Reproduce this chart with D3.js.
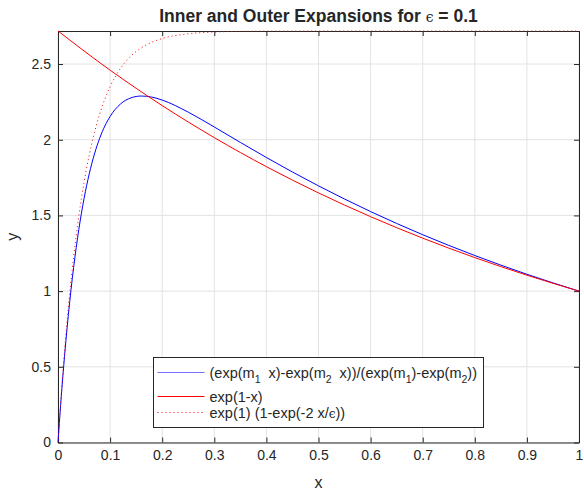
<!DOCTYPE html>
<html lang="en">
    <head>
        <meta charset="utf-8">
        <title></title>
        <script src="https://d3js.org/d3.v7.min.js"></script>
        <style type="text/css">
      body { margin: 0; background: #fff; }
      text { font-family: "Liberation Sans", Arial, sans-serif; fill: #262626; }
      .tick text { font-size: 14px; }
      .axis path, .axis line { stroke: #262626; }
      .grid line { stroke: #e3e3e3; }
        </style>
    </head>
    <body>
    <svg width="584" height="492"></svg>
    <script>
      // values
      var xExact = [0, 0.005, 0.01, 0.015, 0.02, 0.025, 0.03, 0.04, 0.05, 0.06, 0.07, 0.08, 0.10, 0.12, 0.14, 0.16, 0.18, 0.20, 0.25, 0.30, 0.35, 0.40, 0.50, 0.60, 0.70, 0.80, 0.90, 1.0];
      var yExact = [0, 0.2446, 0.4658, 0.6658, 0.8464, 1.0094, 1.1564, 1.4081, 1.6117, 1.7754, 1.9062, 2.0099, 2.1539, 2.2362, 2.2766, 2.2887, 2.2817, 2.2620, 2.1822, 2.0841, 1.9824, 1.8826, 1.6953, 1.5255, 1.3726, 1.2351, 1.1114, 1.0];
      var xOuter = [0, 0.1, 0.2, 0.3, 0.4, 0.5, 0.6, 0.7, 0.8, 0.9, 1.0];
      var yOuter = [2.7183, 2.4596, 2.2255, 2.0138, 1.8221, 1.6487, 1.4918, 1.3499, 1.2214, 1.1052, 1.0];
      var xInner = [0, 0.005, 0.01, 0.015, 0.02, 0.025, 0.03, 0.04, 0.05, 0.06, 0.07, 0.08, 0.10, 0.12, 0.14, 0.16, 0.18, 0.20, 0.25, 0.30, 0.35, 0.40, 0.50, 0.60, 0.70, 0.80, 0.90, 1.0];
      var yInner = [0, 0.2587, 0.4927, 0.7045, 0.8962, 1.0696, 1.2265, 1.4969, 1.7183, 1.8996, 2.0480, 2.1695, 2.3504, 2.4717, 2.5530, 2.6075, 2.6440, 2.6685, 2.7000, 2.7115, 2.7158, 2.7174, 2.7183, 2.7183, 2.7183, 2.7183, 2.7183, 2.7183];
      var xTicks = [0, 0.1, 0.2, 0.3, 0.4, 0.5, 0.6, 0.7, 0.8, 0.9, 1];
      var yTicks = [0, 0.5, 1, 1.5, 2, 2.5];

      var styles = {
        exact: {stroke: "#0000ff", dash: null},
        outer: {stroke: "#ff0000", dash: null},
        inner: {stroke: "#ff0000", dash: "1,3"}
      };

      var svg = d3.select("svg");
      var margin = {top: 31, right: 5, bottom: 49.5, left: 58};
      var width = +svg.attr("width") - margin.left - margin.right;
      var height = +svg.attr("height") - margin.top - margin.bottom;
      var g = svg.append("g").attr("transform", `translate(${margin.left}, ${margin.top})`);

      var xScale = d3.scaleLinear().domain([0, 1]).range([0, width]);
      var yScale = d3.scaleLinear().domain([0, Math.E]).range([height, 0]);

      // grid
      g.append("g").attr("class", "grid")
        .selectAll("line").data(xTicks).join("line")
          .attr("x1", d => xScale(d)).attr("x2", d => xScale(d))
          .attr("y1", 0).attr("y2", height);
      g.append("g").attr("class", "grid")
        .selectAll("line").data(yTicks).join("line")
          .attr("x1", 0).attr("x2", width)
          .attr("y1", d => yScale(d)).attr("y2", d => yScale(d));

      // axes (box with inward ticks), drawn under the data like matlab
      g.append("g").attr("class", "axis")
        .attr("transform", `translate(0, ${height})`)
        .call(d3.axisBottom(xScale).tickValues(xTicks).tickFormat(d3.format("")).tickSizeInner(-5).tickSizeOuter(0).tickPadding(8));
      g.append("g").attr("class", "axis")
        .call(d3.axisLeft(yScale).tickValues(yTicks).tickFormat(d3.format("")).tickSizeInner(-5).tickSizeOuter(0).tickPadding(7));
      g.append("g").attr("class", "axis")
        .call(d3.axisTop(xScale).tickValues(xTicks).tickFormat("").tickSizeInner(-5).tickSizeOuter(0));
      g.append("g").attr("class", "axis")
        .attr("transform", `translate(${width}, 0)`)
        .call(d3.axisRight(yScale).tickValues(yTicks).tickFormat("").tickSizeInner(-5).tickSizeOuter(0));

      var line = d3.line()
        .x(d => xScale(d[0]))
        .y(d => yScale(d[1]))
        .curve(d3.curveMonotoneX);

      function drawSeries(xs, ys, key) {
        g.append("path").datum(d3.zip(xs, ys))
          .attr("fill", "none")
          .attr("stroke", styles[key].stroke)
          .attr("stroke-width", 1)
          .attr("stroke-dasharray", styles[key].dash)
          .attr("d", line);
      }
      drawSeries(xExact, yExact, "exact");
      drawSeries(xOuter, yOuter, "outer");
      drawSeries(xInner, yInner, "inner");

      // title and labels
      var title = svg.append("text")
        .attr("x", margin.left + width / 2).attr("y", 22)
        .attr("text-anchor", "middle")
        .style("font-size", "17.5px").style("font-weight", "bold");
      title.append("tspan").text("Inner and Outer Expansions for ");
      title.append("tspan").style("font-weight", "normal").style("font-family", "DejaVu Serif").style("font-size", "14px").text("\u03f5");
      title.append("tspan").text(" = 0.1");

      svg.append("text")
        .attr("x", margin.left + width / 2).attr("y", 488)
        .attr("text-anchor", "middle").style("font-size", "16px").text("x");
      svg.append("text")
        .attr("transform", `translate(18, ${margin.top + height / 2}) rotate(-90)`)
        .attr("text-anchor", "middle").style("font-size", "16px").text("y");

      // legend
      var legend = svg.append("g").attr("transform", "translate(153.5, 357.5)");
      legend.append("rect").attr("width", 330).attr("height", 70)
        .attr("fill", "#fff").attr("stroke", "#262626").attr("stroke-width", 1);
      var items = [
        {key: "exact", y: 15, parts: [["(exp(m", 0], ["1", 1], ["  x)-exp(m", 0], ["2", 1], ["  x))/(exp(m", 0], ["1", 1], [")-exp(m", 0], ["2", 1], ["))", 0]]},
        {key: "outer", y: 39, parts: [["exp(1-x)", 0]]},
        {key: "inner", y: 55, parts: [["exp(1) (1-exp(-2 x/", 0], ["\u03f5", 2], ["))", 0]]}
      ];
      items.forEach(function(it) {
        legend.append("line")
          .attr("x1", 4).attr("x2", 51).attr("y1", it.y).attr("y2", it.y)
          .attr("stroke", styles[it.key].stroke)
          .attr("stroke-width", 1)
          .attr("stroke-dasharray", styles[it.key].dash)
          .attr("stroke-opacity", it.key == "exact" ? 0.55 : 1);
        var t = legend.append("text").attr("x", 56).attr("y", it.y + 5)
          .style("font-size", "14.5px").style("white-space", "pre");
        var shift = 0;
        it.parts.forEach(function(p) {
          var s = t.append("tspan").text(p[0]);
          if (p[1] == 1) {
            s.style("font-size", "10.5px").attr("dy", 5 - shift);
            shift = 5;
          } else {
            if (shift) s.attr("dy", -shift);
            shift = 0;
            if (p[1] == 2) s.style("font-family", "DejaVu Serif").style("font-size", "12px");
          }
        });
      });
    </script>
    </body>
</html>
